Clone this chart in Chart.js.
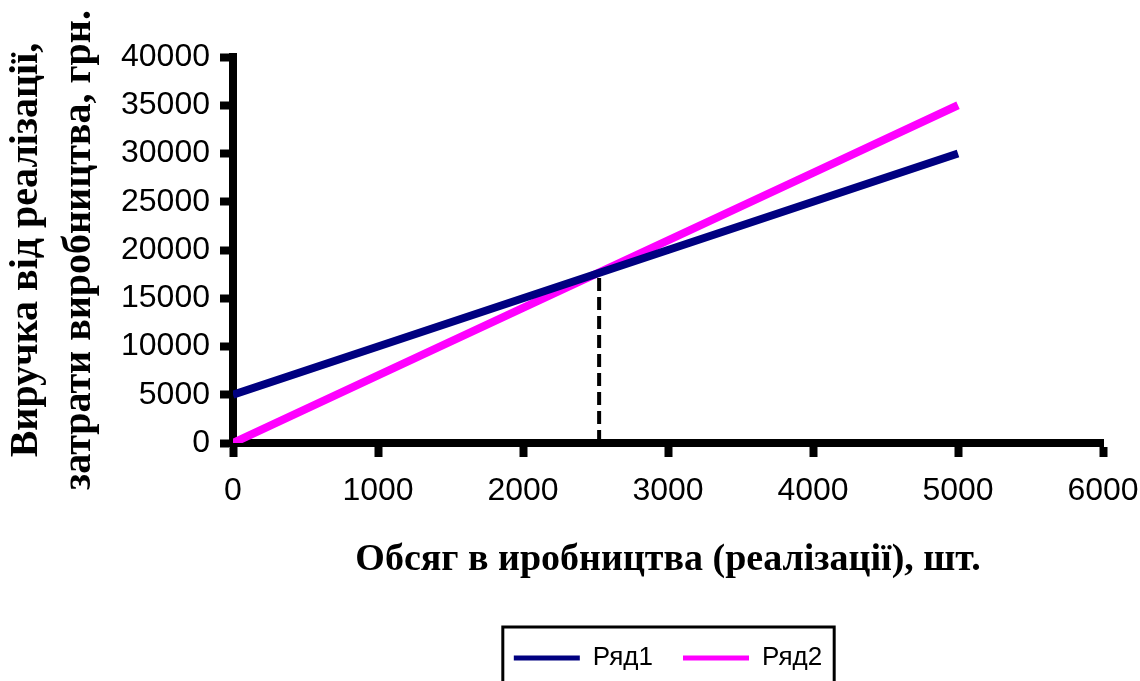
<!doctype html>
<html lang="uk">
<head>
    <meta charset="UTF-8"/>
    <title>Точка беззбитковості</title>
    <script src="https://cdn.jsdelivr.net/npm/chart.js@4/dist/chart.umd.min.js"></script>
    <style>
        html, body { margin: 0; padding: 0; background: #fff; }
    </style>
</head>
<body>
<canvas id="chart" width="1140" height="681"></canvas>
<script>
    // values
    const volumes = [0, 1000, 2000, 3000, 4000, 5000];
    const row1 = [5000, 10000, 15000, 20000, 25000, 30000];
    const row2 = [0, 7000, 14000, 21000, 28000, 35000];
    const breakEvenX = [2525, 2525];
    const breakEvenY = [0, 17600];
    const seriesNames = ['Ряд1', 'Ряд2'];
    const yTitle = ['Виручка від реалізації,', 'затрати виробництва, грн.'];
    const xTitle = 'Обсяг в иробництва (реалізації), шт.';

    const serifFamily = '"Liberation Serif", "Times New Roman", serif';
    const sans = '"Liberation Sans", Arial, sans-serif';

    // frame around the legend, like the original
    const legendFrame = {
        id: 'legendFrame',
        afterDraw(chart) {
            const boxes = chart.legend.legendHitBoxes;
            if (!boxes || !boxes.length) return;
            const left = Math.min(...boxes.map(b => b.left)) - 11;
            const right = Math.max(...boxes.map(b => b.left + b.width)) + 12;
            const top = boxes[0].top - 18;
            const ctx = chart.ctx;
            ctx.save();
            ctx.strokeStyle = '#000';
            ctx.lineWidth = 3;
            ctx.strokeRect(left, top, right - left, chart.height - top + 10);
            ctx.restore();
        }
    };

    new Chart(document.getElementById('chart'), {
        type: 'line',
        data: {
            datasets: [{
                label: seriesNames[0],
                data: volumes.map((v, i) => ({x: v, y: row1[i]})),
                borderColor: '#000080',
                backgroundColor: '#000080',
                borderWidth: 8,
                pointRadius: 0
            }, {
                label: seriesNames[1],
                data: volumes.map((v, i) => ({x: v, y: row2[i]})),
                borderColor: '#ff00ff',
                backgroundColor: '#ff00ff',
                borderWidth: 8,
                pointRadius: 0
            }, {
                label: 'break-even',
                data: breakEvenX.map((v, i) => ({x: v, y: breakEvenY[i]})),
                borderColor: '#000',
                borderWidth: 4,
                borderDash: [13, 6],
                pointRadius: 0
            }]
        },
        plugins: [legendFrame],
        options: {
            responsive: false,
            animation: false,
            layout: {padding: {top: 57, right: 37, left: 0, bottom: 0}},
            plugins: {
                tooltip: {enabled: false},
                legend: {
                    position: 'bottom',
                    fullSize: false,
                    labels: {
                        boxWidth: 66,
                        boxHeight: 5,
                        color: '#000',
                        padding: 30,
                        font: {family: sans, size: 26},
                        filter: item => item.datasetIndex < 2,
                        generateLabels(chart) {
                            return Chart.defaults.plugins.legend.labels.generateLabels(chart)
                                .map(l => Object.assign(l, {lineWidth: 0}));
                        }
                    }
                }
            },
            scales: {
                x: {
                    type: 'linear',
                    min: 0,
                    max: 6000,
                    ticks: {
                        stepSize: 1000,
                        color: '#000',
                        padding: 15,
                        maxRotation: 0,
                        font: {family: sans, size: 32},
                        callback: v => String(v)
                    },
                    grid: {drawOnChartArea: false, tickLength: 14, tickWidth: 8, tickColor: '#000'},
                    border: {color: '#000', width: 8},
                    title: {
                        display: true,
                        text: xTitle,
                        color: '#000',
                        font: {family: serifFamily, size: 38, weight: 'bold'},
                        padding: {top: 0, bottom: 32}
                    },
                    afterFit: s => { s.height = 172; s.paddingRight = 0; }
                },
                y: {
                    min: 0,
                    max: 40000,
                    ticks: {
                        stepSize: 5000,
                        color: '#000',
                        padding: 10,
                        font: {family: sans, size: 32},
                        callback: v => String(v)
                    },
                    grid: {drawOnChartArea: false, tickLength: 13, tickWidth: 8, tickColor: '#000'},
                    border: {color: '#000', width: 8},
                    title: {
                        display: true,
                        text: yTitle,
                        color: '#000',
                        font: {family: serifFamily, size: 40, weight: 'bold', lineHeight: '53px'},
                        padding: {top: 0, bottom: 0}
                    },
                    afterFit: s => { s.width = 233; }
                }
            }
        }
    });
</script>
</body>
</html>
